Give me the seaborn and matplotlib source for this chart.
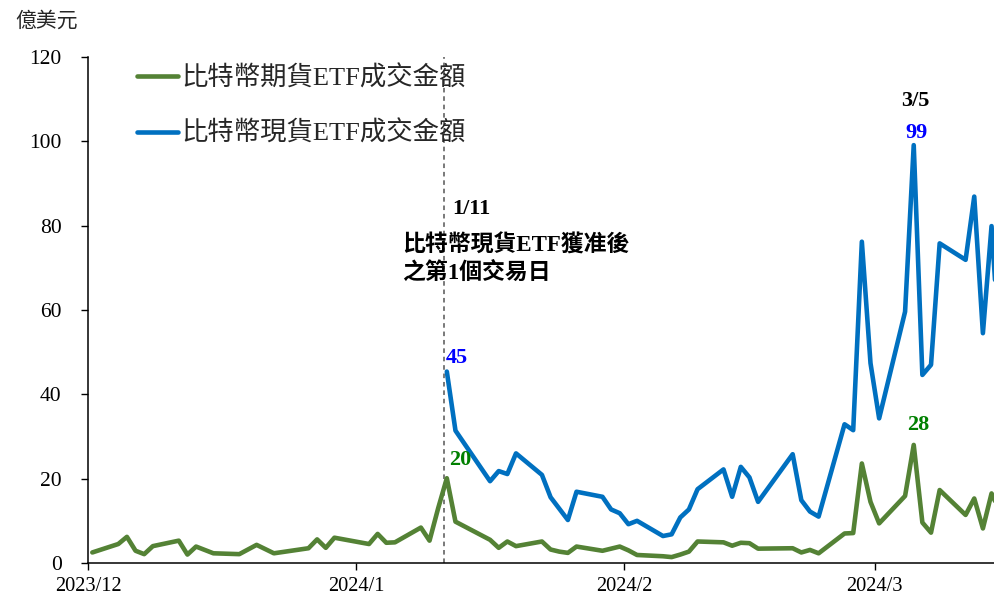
import matplotlib
matplotlib.use("Agg")
import matplotlib.pyplot as plt
import seaborn as sns
import pandas as pd

# ---------------- data ----------------
dates_fut = [
    "2023-12-01", "2023-12-04", "2023-12-05", "2023-12-06", "2023-12-07", "2023-12-08",
    "2023-12-11", "2023-12-12", "2023-12-13", "2023-12-14", "2023-12-15",
    "2023-12-18", "2023-12-19", "2023-12-20", "2023-12-21", "2023-12-22",
    "2023-12-26", "2023-12-27", "2023-12-28", "2023-12-29",
    "2024-01-02", "2024-01-03", "2024-01-04", "2024-01-05",
    "2024-01-08", "2024-01-09", "2024-01-10", "2024-01-11", "2024-01-12",
    "2024-01-16", "2024-01-17", "2024-01-18", "2024-01-19",
    "2024-01-22", "2024-01-23", "2024-01-24", "2024-01-25", "2024-01-26",
    "2024-01-29", "2024-01-30", "2024-01-31", "2024-02-01", "2024-02-02",
    "2024-02-05", "2024-02-06", "2024-02-07", "2024-02-08", "2024-02-09",
    "2024-02-12", "2024-02-13", "2024-02-14", "2024-02-15", "2024-02-16",
    "2024-02-20", "2024-02-21", "2024-02-22", "2024-02-23",
    "2024-02-26", "2024-02-27", "2024-02-28", "2024-02-29", "2024-03-01",
    "2024-03-04", "2024-03-05", "2024-03-06", "2024-03-07", "2024-03-08",
    "2024-03-11", "2024-03-12", "2024-03-13", "2024-03-14", "2024-03-15",
]
futures_values = [
    2.5, 4.5, 6.2, 2.9, 2.1, 4.0,
    5.3, 2.0, 3.9, 3.1, 2.3,
    2.1, 3.2, 4.3, 3.3, 2.3,
    3.5, 5.6, 3.6, 6.0,
    4.5, 6.9, 4.8, 4.9,
    8.4, 5.3, 13.0, 20.1, 9.8,
    5.5, 3.6, 5.1, 4.0,
    5.1, 3.2, 2.7, 2.4, 3.9,
    2.9, 3.4, 3.9, 3.0, 1.9,
    1.6, 1.4, 2.0, 2.7, 5.1,
    4.9, 4.1, 4.8, 4.7, 3.4,
    3.5, 2.5, 3.1, 2.3,
    7.0, 7.1, 23.6, 14.5, 9.4,
    15.9, 28.0, 9.6, 7.2, 17.3,
    11.4, 15.3, 8.2, 16.5, 12.0,
]

dates_spot = dates_fut[27:]
spot_values = [
    45.4, 31.4,
    19.4, 21.8, 21.1, 26.0,
    20.9, 15.6, 12.9, 10.2, 16.9,
    15.7, 12.7, 11.8, 9.2, 10.0,
    6.4, 6.8, 10.8, 12.7, 17.5,
    22.2, 15.7, 22.8, 20.3, 14.5,
    25.8, 14.9, 12.2, 11.0,
    32.9, 31.5, 76.2, 47.4, 34.3,
    59.6, 99.1, 44.6, 47.0, 75.8,
    71.9, 86.9, 54.5, 79.9, 48.0,
]

series_names = ["比特幣期貨ETF成交金額", "比特幣現貨ETF成交金額"]
series_colors = ["#548235", "#0070C0"]
x_tick_dates = ["2023-12-01", "2024-01-01", "2024-02-01", "2024-03-01"]
x_tick_labels = ["2023/12", "2024/1", "2024/2", "2024/3"]
y_ticks = [0, 20, 40, 60, 80, 100, 120]

# ---------------- frame ----------------
df = pd.concat([
    pd.DataFrame({"date": pd.to_datetime(dates_fut), "value": futures_values,
                  "series": series_names[0]}),
    pd.DataFrame({"date": pd.to_datetime(dates_spot), "value": spot_values,
                  "series": series_names[1]}),
], ignore_index=True)
df["date"] = df["date"] + pd.Timedelta(hours=12)

sns.set_style("ticks")
FAM = ["Liberation Serif", "Noto Sans CJK TC", "DejaVu Sans"]
plt.rcParams["font.family"] = FAM

fig = plt.figure(figsize=(9.95, 5.97), dpi=100)
ax = fig.add_axes([88 / 995, 1 - 563 / 597, 1 - 88 / 995, (563 - 57) / 597])

sns.lineplot(data=df, x="date", y="value", hue="series", hue_order=series_names,
             palette=series_colors, linewidth=3.3, ax=ax, legend=True)

ax.set_xlim(pd.Timestamp("2023-12-01"), pd.Timestamp("2023-12-01") + pd.Timedelta(days=104.9))
ax.set_ylim(0, 120)
ax.set_yticks(y_ticks)
ax.set_yticklabels([str(v) for v in y_ticks], fontsize=15.5, family=FAM)
ax.set_xticks(pd.to_datetime(x_tick_dates))
ax.set_xticklabels(x_tick_labels, fontsize=14.7, family=FAM)
ax.set_xlabel("")
ax.set_ylabel("")
ax.tick_params(axis="y", length=5, width=1, pad=14, colors="black")
ax.tick_params(axis="x", length=5, width=1, pad=5, colors="black")
for s in ["top", "right"]:
    ax.spines[s].set_visible(False)
for s in ["left", "bottom"]:
    ax.spines[s].set_color("black")
    ax.spines[s].set_linewidth(1.1)

# vertical dashed line at 1/11
vdate = pd.Timestamp("2024-01-11") + pd.Timedelta(hours=3)
ax.axvline(vdate, color="#555555", linestyle=(0, (3, 2.5)), linewidth=1.1, zorder=1)

# legend
handles, labels = ax.get_legend_handles_labels()
leg = ax.legend(handles, labels, loc="upper left", bbox_to_anchor=(0.054, 0.984),
                frameon=False, borderaxespad=0, borderpad=0, handlelength=1.55,
                handletextpad=0.15, labelspacing=1.15,
                prop={"family": FAM, "size": 19})
for ln in leg.get_lines():
    ln.set_linewidth(3.3)

# annotations
def peak(d):
    return pd.Timestamp(d) + pd.Timedelta(hours=12)

bold = dict(fontweight="bold", family=FAM, ha="center", va="center")
ax.annotate("45", (peak("2024-01-11"), 45.4), xytext=(7, 10), textcoords="offset points",
            color="#0000FF", fontsize=16, **bold)
ax.annotate("20", (peak("2024-01-11"), 20.1), xytext=(10, 13), textcoords="offset points",
            color="#008000", fontsize=16, **bold)
ax.annotate("99", (peak("2024-03-05"), 99.1), xytext=(2, 9), textcoords="offset points",
            color="#0000FF", fontsize=16, **bold)
ax.annotate("28", (peak("2024-03-05"), 28.0), xytext=(3, 14), textcoords="offset points",
            color="#008000", fontsize=16, **bold)
ax.annotate("3/5", (peak("2024-03-05"), 99.1), xytext=(1, 32), textcoords="offset points",
            color="black", fontsize=16, **bold)
ax.annotate("1/11", (vdate, 84.0), xytext=(20, 0), textcoords="offset points",
            color="black", fontsize=16, **bold)
ax.annotate("比特幣現貨ETF獲准後\n之第1個交易日", (vdate, 78.0), xytext=(-30, 0),
            textcoords="offset points", color="black", fontsize=16.5,
            fontweight="bold", family=FAM, ha="left", va="top", linespacing=1.3)

fig.text(15 / 995, 1 - 22 / 597, "億美元", fontsize=15, family=FAM, ha="left", va="center")

fig.savefig("out.png", dpi=100)
